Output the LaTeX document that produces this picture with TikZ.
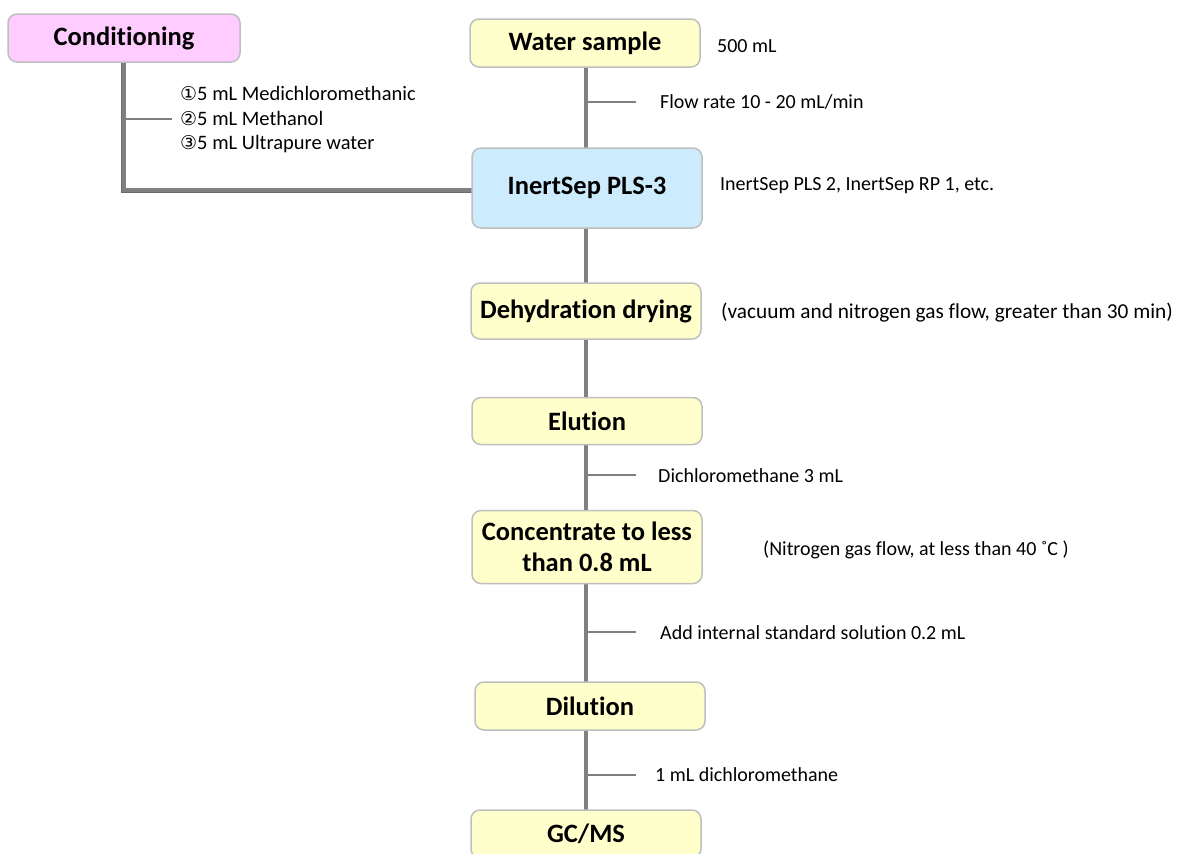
\documentclass[tikz,border=0pt]{standalone}
\usepackage{fontspec}
\setmainfont[RawFeature={-liga;-dlig}]{Carlito}
\newfontfamily\symfont{DejaVu Sans}
\definecolor{boxline}{HTML}{BFBFBF}
\definecolor{yel}{HTML}{FFFFCC}
\definecolor{pnk}{HTML}{FFCCFF}
\definecolor{blu}{HTML}{CCEBFC}
\definecolor{conn}{HTML}{808080}
\definecolor{shad}{HTML}{6A6A6A}
\tikzset{
  stepbox/.style={draw=boxline, line width=1.5pt, rounded corners=9pt, fill=yel,
    minimum width=230pt, minimum height=48pt, inner sep=2pt, align=center,
    font=\fontsize{26.5}{31}\selectfont\bfseries},
  mainline/.style={conn, line width=4.5pt},
  tickline/.style={conn, line width=1.5pt},
  note/.style={anchor=west, inner sep=0pt, font=\fontsize{20}{24}\selectfont},
}
\begin{document}
\begin{tikzpicture}[x=1pt,y=-1pt]
\useasboundingbox (0,0) rectangle (1178,854);
\clip (0,0) rectangle (1178,854);
\fill[white] (0,0) rectangle (1178,854);

% coordinates of the trunk
\coordinate (t1) at (586,102);
\coordinate (t1e) at (636,102);
\coordinate (t2) at (586,475);
\coordinate (t2e) at (636,475);
\coordinate (t3) at (586,632);
\coordinate (t3e) at (636,632);
\coordinate (t4) at (586,775);
\coordinate (t4e) at (636,775);

% Conditioning branch
\coordinate (c1) at (124,190);
\coordinate (c2) at (473,190);
\coordinate (ct) at (125,119);
\coordinate (cte) at (172,119);

\draw[shad, line width=4.5pt] ([shift={(-1.2,1.2)}]124,62) -- ([shift={(-1.2,1.2)}]c1) -- ([shift={(-1.2,1.2)}]c2);
\draw[mainline] (124,62) -- (c1) -- (c2);
\draw[tickline] (ct) -- (cte);

% main trunk
\draw[mainline] (586,67) -- (586,811);

% boxes
\node[stepbox, fill=pnk, minimum width=232pt] (cond) at (124,38) {Conditioning};
\node[stepbox] (water) at (585,43) {Water sample};
\node[stepbox, fill=blu, minimum height=80pt] (inert) at (587,188) {InertSep PLS-3};
\node[stepbox, minimum height=56pt] (dehyd) at (586,311) {Dehydration drying};
\node[stepbox, minimum height=47pt] (elut) at (587,421) {Elution};
\node[stepbox, minimum height=73pt] (conc) at (587,547) {Concentrate to less\\than 0.8 mL};
\node[stepbox] (dil) at (590,706) {Dilution};
\node[stepbox] (gcms) at (586,834) {GC/MS};

% tick lines
\draw[tickline] (t1) -- (t1e);
\draw[tickline] (t2) -- (t2e);
\draw[tickline] (t3) -- (t3e);
\draw[tickline] (t4) -- (t4e);

% notes
\node[note] (n0) at (717,46) {500 mL};
\node[note] (n1) at (660,102) {Flow rate 10 - 20 mL/min};
\node[note] (n2) at (720,186) {InertSep PLS 2, InertSep RP 1, etc.};
\node[note, font=\fontsize{21.3}{24}\selectfont] (n3) at (721,313) {(vacuum and nitrogen gas flow, greater than 30 min)};
\node[note] (n4) at (658,476) {Dichloromethane 3 mL};
\node[note] (n5) at (763,550) {(Nitrogen gas flow, at less than 40 ˚C )};
\node[note] (n6) at (660,633) {Add internal standard solution 0.2 mL};
\node[note] (n7) at (655,775) {1 mL dichloromethane};

\node[note, align=left, font=\fontsize{20.5}{24.5}\selectfont] (cn) at (180,120)
  {{\symfont\fontsize{19}{24.5}\selectfont ①}5 mL Medichloromethanic\\
   {\symfont\fontsize{19}{24.5}\selectfont ②}5 mL Methanol\\
   {\symfont\fontsize{19}{24.5}\selectfont ③}5 mL Ultrapure water};
\end{tikzpicture}
\end{document}
